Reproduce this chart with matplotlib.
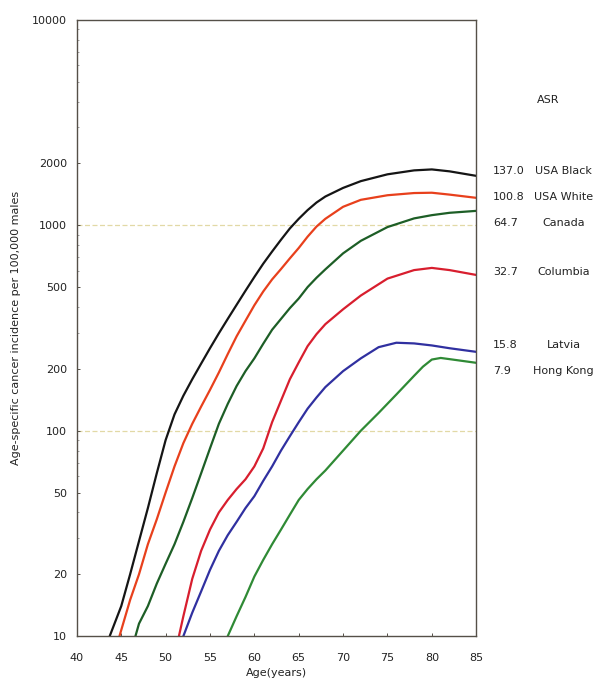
import matplotlib
matplotlib.use("Agg")
import matplotlib.pyplot as plt
from matplotlib.ticker import FixedLocator, NullFormatter, LogLocator

plt.rcParams['font.family'] = ['DejaVu Sans']

# ---- data ----
age_black = [43.7, 45, 46, 47, 48, 49, 50, 51, 52, 53, 54, 55, 56, 57, 58, 59, 60, 61, 62, 63, 64, 65, 66, 67, 68, 70, 72, 75, 78, 80, 82, 85]
usa_black = [10, 14, 20, 29, 42, 62, 90, 120, 148, 178, 212, 252, 298, 350, 410, 480, 560, 650, 745, 850, 965, 1075, 1185, 1290, 1380, 1520, 1640, 1770, 1850, 1870, 1830, 1740]

age_white = [44.8, 46, 47, 48, 49, 50, 51, 52, 53, 54, 55, 56, 57, 58, 59, 60, 61, 62, 63, 64, 65, 66, 67, 68, 70, 72, 75, 78, 80, 82, 85]
usa_white = [10, 15, 20, 28, 37, 50, 67, 87, 108, 131, 158, 192, 236, 288, 343, 408, 476, 545, 612, 690, 775, 880, 985, 1075, 1230, 1330, 1400, 1435, 1440, 1410, 1360]

age_canada = [46.6, 47, 48, 49, 50, 51, 52, 53, 54, 55, 56, 57, 58, 59, 60, 61, 62, 63, 64, 65, 66, 67, 68, 70, 72, 75, 78, 80, 82, 85]
canada = [10, 11.5, 14, 18, 22.5, 28, 36, 47, 62, 82, 108, 135, 165, 195, 225, 265, 310, 350, 395, 440, 500, 555, 610, 730, 840, 980, 1080, 1120, 1150, 1175]

age_columbia = [51.5, 52, 53, 54, 55, 56, 57, 58, 59, 60, 61, 62, 63, 64, 65, 66, 67, 68, 70, 72, 75, 78, 80, 82, 85]
columbia = [10, 12.5, 19, 26, 33, 40, 46, 52, 58, 67, 82, 110, 140, 178, 215, 258, 295, 330, 390, 455, 550, 605, 620, 605, 573]

age_latvia = [52, 53, 54, 55, 56, 57, 58, 59, 60, 61, 62, 63, 64, 65, 66, 67, 68, 70, 72, 74, 76, 78, 80, 82, 85]
latvia = [10, 13, 16.5, 21, 26, 31, 36, 42, 48, 57, 67, 80, 94, 110, 128, 145, 163, 195, 225, 255, 268, 266, 260, 252, 242]

age_hk = [57, 58, 59, 60, 61, 62, 63, 64, 65, 66, 67, 68, 70, 72, 74, 76, 78, 79, 80, 81, 82, 85]
hong_kong = [10, 12.5, 15.5, 19.5, 23.5, 28, 33, 39, 46, 52, 58, 64, 80, 100, 122, 150, 185, 205, 222, 226, 223, 214]

names = ['USA Black', 'USA White', 'Canada', 'Columbia', 'Latvia', 'Hong Kong']
asr = ['137.0', '100.8', '64.7', '32.7', '15.8', '7.9']
label_y = [1840, 1380, 1020, 590, 260, 196]   # vertical anchor of right-hand labels (data units)

y_ticks = [10, 20, 50, 100, 200, 500, 1000, 2000, 10000]
x_ticks = [40, 45, 50, 55, 60, 65, 70, 75, 80, 85]

colors = ['#151515', '#e8401c', '#1d5e26', '#d81e2e', '#3030a0', '#2f8a35']

fig = plt.figure(figsize=(5.96, 6.84), dpi=100)
ax = fig.add_axes([0.129, 0.070, 0.670, 0.901])

series = [(age_black, usa_black), (age_white, usa_white), (age_canada, canada),
          (age_columbia, columbia), (age_latvia, latvia), (age_hk, hong_kong)]
for (xs, ys), c in zip(series, colors):
    ax.plot(xs, ys, color=c, lw=1.6, solid_capstyle='round', solid_joinstyle='round')

ax.set_yscale('log')
ax.set_xlim(40, 85)
ax.set_ylim(10, 10000)
ax.yaxis.set_major_locator(FixedLocator(y_ticks))
ax.yaxis.set_major_formatter(plt.FuncFormatter(lambda v, p: f"{int(v)}"))
ax.yaxis.set_minor_locator(LogLocator(base=10, subs=range(1, 10)))
ax.yaxis.set_minor_formatter(NullFormatter())
ax.set_xticks(x_ticks)

for g in [100, 1000]:
    ax.axhline(g, color='#e2d9a6', lw=0.9, ls=(0, (4, 2)), zorder=0)

for s in ax.spines.values():
    s.set_color('#555048')
    s.set_linewidth(1.0)

ax.tick_params(axis='both', which='major', direction='in', length=2.5, width=0.7,
               colors='#555048', labelcolor='#222222', labelsize=8)
ax.tick_params(axis='y', which='minor', direction='in', length=1.5, width=0.5, colors='#777')
ax.tick_params(axis='x', pad=12)
ax.tick_params(axis='y', pad=7)

ax.set_xlabel('Age(years)', fontsize=8, color='#222222', labelpad=4)
ax.set_ylabel('Age-specific cancer incidence per 100,000 males', fontsize=8,
              color='#222222', labelpad=8)

# right-hand labels
ax.text(1.18, 0.87, 'ASR', transform=ax.transAxes, fontsize=8, ha='center', va='center',
        color='#222222')
for n, a, yv in zip(names, asr, label_y):
    ax.annotate(a, xy=(1.0, yv), xycoords=('axes fraction', 'data'), xytext=(12, 0),
                textcoords='offset points', fontsize=8, ha='left', va='center',
                color='#222222', annotation_clip=False)
    ax.annotate(n, xy=(1.0, yv), xycoords=('axes fraction', 'data'), xytext=(63, 0),
                textcoords='offset points', fontsize=8, ha='center', va='center',
                color='#222222', annotation_clip=False)

fig.savefig('out.png', dpi=100)
